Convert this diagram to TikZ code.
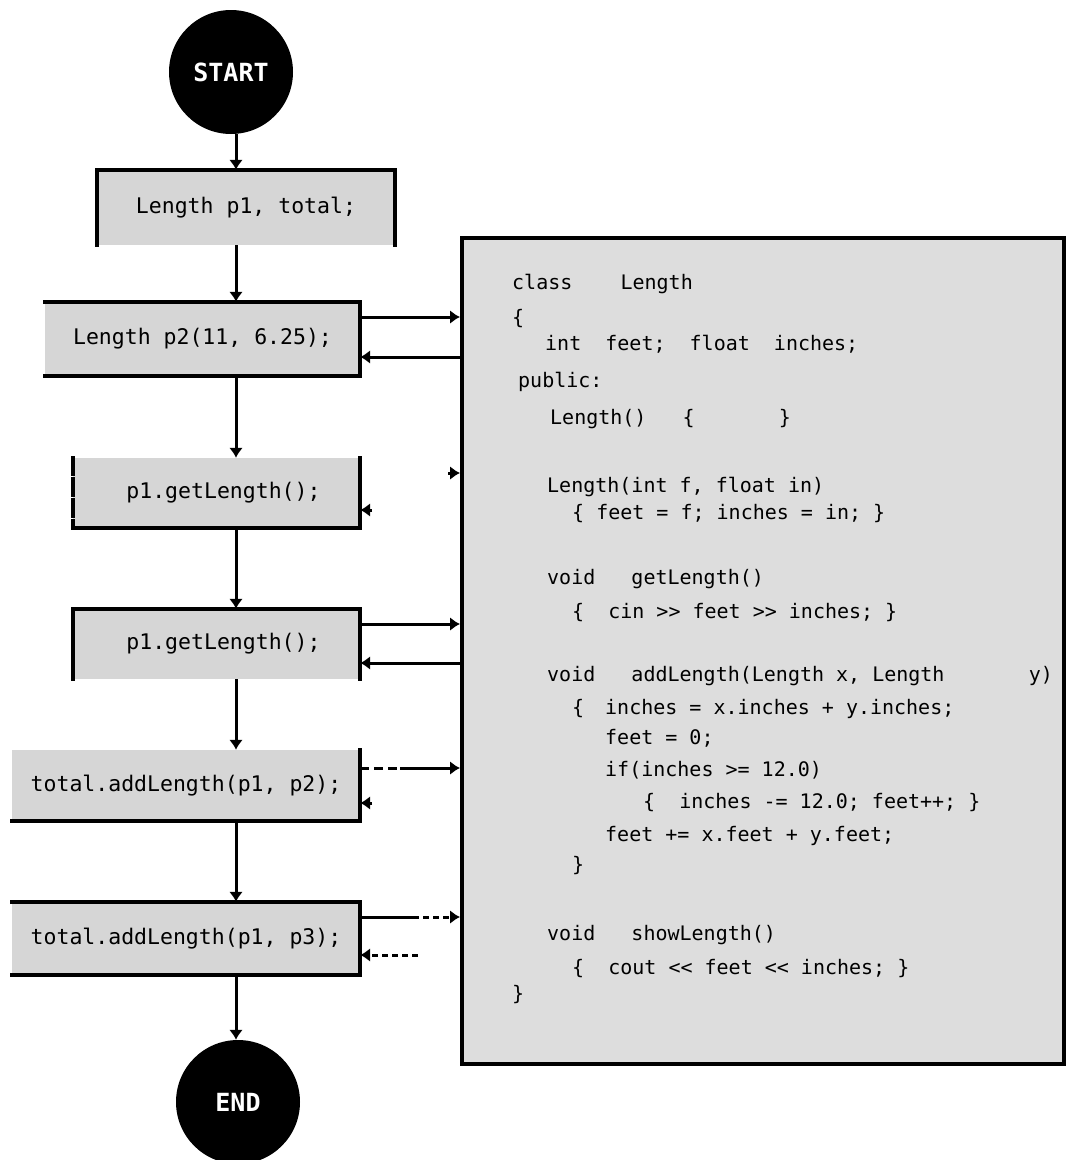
\documentclass[tikz,border=0pt]{standalone}
\usepackage{fontspec}
\setmainfont{DejaVu Sans Mono}
\newfontfamily\codefont{DejaVu Sans Mono}
\usetikzlibrary{arrows.meta}

\definecolor{boxfill}{RGB}{214,214,214}
\definecolor{codefill}{RGB}{221,221,221}

\tikzset{
  term/.style={circle, fill=black, text=white, minimum size=124pt, inner sep=0pt,
    font=\codefont\bfseries\fontsize{25}{28}\selectfont},
  stepbox/.style={rectangle, fill=boxfill, inner sep=0pt,
    font=\codefont\fontsize{21.5}{25}\selectfont},
  codebox/.style={rectangle, fill=codefill, draw=black, line width=4pt, inner sep=0pt,
    minimum width=602pt, minimum height=826pt},
  codeline/.style={anchor=mid west, inner sep=0pt, font=\codefont\fontsize{20}{24}\selectfont},
  edge/.style={line width=4pt, line cap=rect},
  flow/.style={line width=3pt, -{Latex[length=10pt,width=14pt]}},
  tiponly/.style={line width=3pt, -{Latex[length=10pt,width=14pt]}},
}

\begin{document}
\begin{tikzpicture}[x=1pt,y=-1pt]
\useasboundingbox (0,0) rectangle (1066,1160);
\fill[white] (0,0) rectangle (1066,1160);

% main column
\coordinate (spine) at (236,0);
\node[term] (s) at (231,72) {START};
\node[stepbox, minimum width=298pt, minimum height=75pt] (b1) at (246,207.5) {Length p1, total;};
\node[stepbox, minimum width=315pt, minimum height=74pt] (b2) at (202.5,339) {Length p2(11, 6.25);};
\node[stepbox, minimum width=287pt, minimum height=70pt] (b3) at (216.5,493) {\hspace*{14pt}p1.getLength();};
\node[stepbox, minimum width=287pt, minimum height=70pt] (b4) at (216.5,644) {\hspace*{14pt}p1.getLength();};
\node[stepbox, minimum width=348pt, minimum height=71pt] (b5) at (186,785.5) {total.addLength(p1, p2);};
\node[stepbox, minimum width=348pt, minimum height=73pt] (b6) at (186,938.5) {total.addLength(p1, p3);};
\node[term] (e) at (238,1102) {END};

% visible box outlines
\draw[edge] (b1.south west) -- (b1.north west) -- (b1.north east) -- (b1.south east);
\draw[edge] (b2.north west) -- (b2.north east) -- (b2.south east) -- (b2.south west);
\draw[edge, dash pattern=on 16pt off 5pt] (b3.north west) -- (b3.south west);
\draw[edge] (b3.south west) -- (b3.south east) -- (b3.north east);
\draw[edge] (b4.south west) -- (b4.north west) -- (b4.north east) -- (b4.south east);
\draw[edge] (b5.north east) -- (b5.south east) -- (b5.south west);
\draw[edge] (b6.north west) -- (b6.north east) -- (b6.south east) -- (b6.south west);

% flow down the column
\draw[flow] (s.south -| spine) -- (b1.north -| spine);
\draw[flow] (b1.south -| spine) -- (b2.north -| spine);
\draw[flow] (b2.south -| spine) -- (b3.north -| spine);
\draw[flow] (b3.south -| spine) -- (b4.north -| spine);
\draw[flow] (b4.south -| spine) -- (b5.north -| spine);
\draw[flow] (b5.south -| spine) -- (b6.north -| spine);
\draw[flow] (b6.south -| spine) -- (e.north -| spine);

% class definition
\node[codebox] (code) at (763,651) {};
\node[codeline] (c1) at (512,287) {class~~~~Length};
\node[codeline] (c2) at (512,322) {\{};
\node[codeline] (c3) at (545,348) {int~~feet;~~float~~inches;};
\node[codeline] (c4) at (518,385) {public:};
\node[codeline] (c5) at (550,422) {Length()~~~\{~~~~~~~\}};
\node[codeline] (c6) at (547,490) {Length(int f, float in)};
\node[codeline] (c7) at (572,517) {\{ feet = f; inches = in; \}};
\node[codeline] (c8) at (547,582) {void~~~getLength()};
\node[codeline] (c9) at (572,616) {\{~~cin >\kern0pt> feet >\kern0pt> inches; \}};
\node[codeline] (c10) at (547,679) {void~~~addLength(Length x, Length~~~~~~~y)};
\node[codeline] (c11) at (572,712) {\{};
\node[codeline] (c12) at (605,712) {inches = x.inches + y.inches;};
\node[codeline] (c13) at (605,742) {feet = 0;};
\node[codeline] (c14) at (605,774) {if(inches >= 12.0)};
\node[codeline] (c15) at (643,806) {\{~~inches -= 12.0; feet++; \}};
\node[codeline] (c16) at (605,839) {feet += x.feet + y.feet;};
\node[codeline] (c17) at (572,869) {\}};
\node[codeline] (c18) at (547,938) {void~~~showLength()};
\node[codeline] (c19) at (572,972) {\{~~cout <\kern0pt< feet <\kern0pt< inches; \}};
\node[codeline] (c20) at (512,998) {\}};

% calls into the class and returns
\draw[flow] ([yshift=22pt]b2.east) -- ([yshift=22pt]b2.east -| code.west);
\draw[flow] ([yshift=-18pt]b2.east -| code.west) -- ([yshift=-18pt]b2.east);

\draw[tiponly] ([yshift=20pt,xshift=-12pt]b3.east -| code.west) -- ([yshift=20pt]b3.east -| code.west);
\draw[tiponly] ([yshift=-17pt,xshift=12pt]b3.east) -- ([yshift=-17pt]b3.east);

\draw[flow] ([yshift=20pt]b4.east) -- ([yshift=20pt]b4.east -| code.west);
\draw[flow] ([yshift=-19pt]b4.east -| code.west) -- ([yshift=-19pt]b4.east);

\coordinate (m5) at ([yshift=17.5pt,xshift=40pt]b5.east);
\draw[line width=3pt, dash pattern=on 9pt off 5pt] ([yshift=17.5pt]b5.east) -- (m5);
\draw[flow] (m5) -- (m5 -| code.west);
\draw[tiponly] ([yshift=-17.5pt,xshift=12pt]b5.east) -- ([yshift=-17.5pt]b5.east);

\coordinate (m6) at ([yshift=21.5pt,xshift=53pt]b6.east);
\draw[line width=3pt] ([yshift=21.5pt]b6.east) -- (m6);
\draw[flow, dash pattern=on 6pt off 4pt] (m6) -- (m6 -| code.west);
\coordinate (r6) at ([yshift=-16.5pt,xshift=58pt]b6.east);
\draw[flow, dash pattern=on 6pt off 4pt] (r6) -- (r6 -| b6.east);
\end{tikzpicture}
\end{document}
